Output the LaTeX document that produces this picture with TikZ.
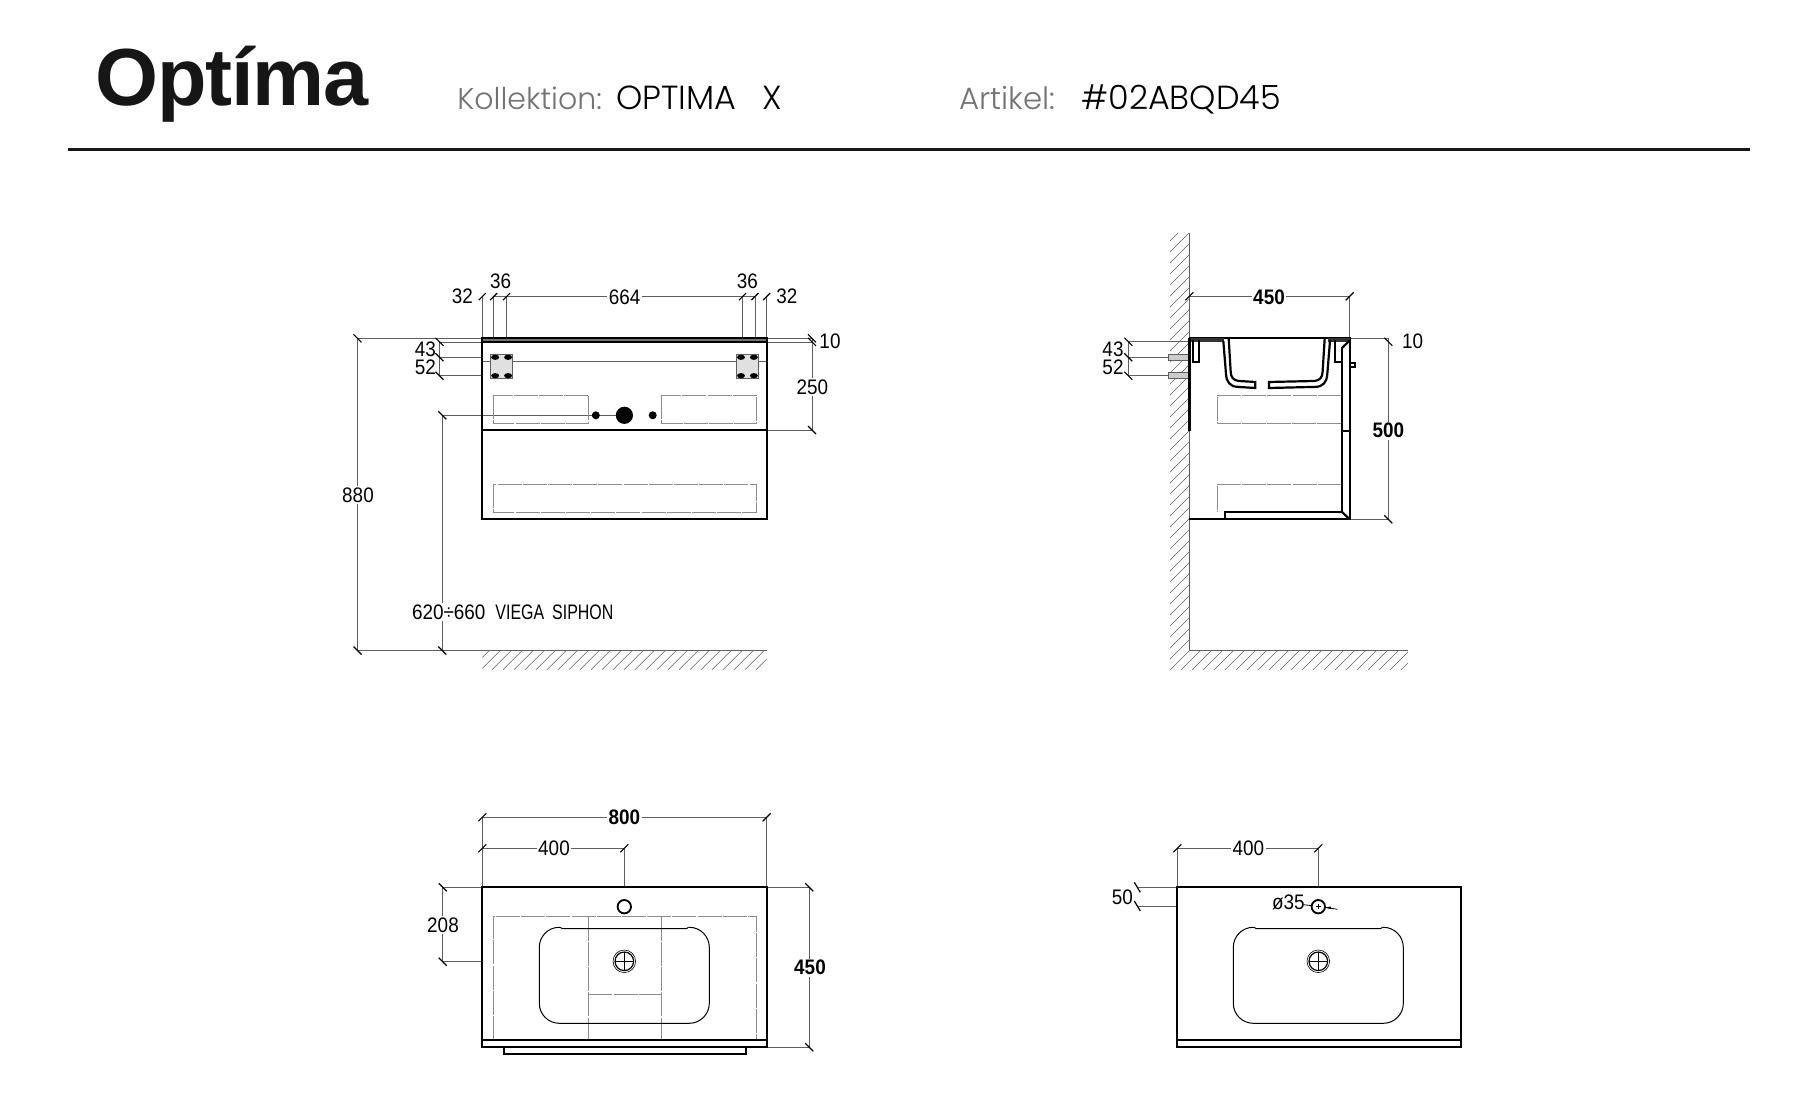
\documentclass[tikz,border=0pt]{standalone}
\usepackage{tikz}
\usepackage{fontspec}
\usepackage{xcolor}
\setmainfont{Liberation Sans}
\newfontfamily\logofont[LetterSpace=-1.5]{Liberation Sans}
\newfontfamily\dimfont[FakeStretch=0.9]{Liberation Sans}
\newfontfamily\dimnarrow[FakeStretch=0.76]{Liberation Sans}
\newfontfamily\headfont{Poppins}
\newfontfamily\headlight{Poppins Light}
\definecolor{optimablack}{RGB}{22,22,22}
\definecolor{dimgrey}{RGB}{95,95,95}
\definecolor{hiddengrey}{RGB}{140,140,140}

\begin{document}
\begin{tikzpicture}[x=0.5pt,y=-0.5pt,
    outline/.style={line width=1.1pt,black},
    dimline/.style={line width=0.35pt,dimgrey},
    hidden/.style={line width=0.35pt,hiddengrey,dash pattern=on 12pt off 0.6pt},
    tickline/.style={line width=0.6pt,black},
    hatchline/.style={line width=0.3pt,dimgrey},
    dimlabel/.style={font=\dimfont\fontsize{10.5}{12}\selectfont,fill=white,inner sep=0.8pt},
    dimbold/.style={dimlabel,font=\dimfont\bfseries\fontsize{10.5}{12}\selectfont},
    headgrey/.style={anchor=base west,inner sep=0pt,font=\headlight\fontsize{15}{18}\selectfont,black!55},
    headblack/.style={anchor=base west,inner sep=0pt,font=\headlight\fontsize{16.7}{18}\selectfont,black}]
    \useasboundingbox (0,0) rectangle (1817,1096);

    \node[anchor=base west,inner sep=0pt,optimablack,font=\logofont\bfseries\fontsize{40.5}{44}\selectfont] (logo) at (95,106) {Optíma};
    \node[headgrey] (kollektion) at (457,110) {Kollektion:};
    \node[headblack] (kollektionname) at (616,110) {OPTIMA\hspace{13pt}X};
    \node[headgrey,font=\headlight\fontsize{15.4}{18}\selectfont] (artikel) at (959,110) {Artikel:};
    \node[headblack] (artikelname) at (1081,110) {\#02ABQD45};
    \draw[line width=1.5pt,optimablack] (68,149.5) -- (1750,149.5);

    \begin{scope}
        \clip (482.3,650.6) rectangle (766.7,669.8);
        \foreach \hx in {470,481,...,780}
            \draw[hatchline] (\hx,669.8) -- (\hx+19.2,650.6);
    \end{scope}
    \draw[dimline] (357.5,650.6) -- (766.7,650.6);

    \draw[dimline] (357.5,338.4) -- (482.3,338.4);
    \draw[dimline] (357.5,338.4) -- (357.5,650.6);
    \draw[dimline] (442.3,415.3) -- (442.3,650.6);
    \draw[dimline] (442.3,415.3) -- (616,415.3);
    \draw[dimline] (439.5,341.9) -- (482.3,341.9);
    \draw[dimline] (439.5,357.2) -- (482.3,357.2);
    \draw[dimline] (439.5,375.7) -- (482.3,375.7);
    \draw[dimline] (439.5,341.9) -- (439.5,375.7);
    \draw[dimline] (482.3,296.6) -- (482.3,338.4);
    \draw[dimline] (493.7,296.6) -- (493.7,338.4);
    \draw[dimline] (506.5,296.6) -- (506.5,338.4);
    \draw[dimline] (742.5,296.6) -- (742.5,338.4);
    \draw[dimline] (754.9,296.6) -- (754.9,338.4);
    \draw[dimline] (766.7,296.6) -- (766.7,338.4);
    \draw[dimline] (493.7,296.6) -- (754.9,296.6);
    \draw[dimline] (766.7,338.4) -- (812,338.4);
    \draw[dimline] (766.7,341.9) -- (812,341.9);
    \draw[dimline] (766.7,430) -- (812,430);
    \draw[dimline] (812,338.4) -- (812,430);
    \foreach \tx/\ty in {482.3/296.6,493.7/296.6,506.5/296.6,742.5/296.6,754.9/296.6,766.7/296.6}
        \draw[tickline] (\tx,\ty) ++(-3.5,3.5) -- ++(7,-7);
    \foreach \tx/\ty in {357.5/338.4,357.5/650.6,442.3/415.3,442.3/650.6,439.5/341.9,439.5/357.2,439.5/375.7,812/338.4,812/341.9,812/430}
        \draw[tickline] (\tx,\ty) ++(-4,-4) -- ++(8,8);

    \draw[hidden] (493.2,395.3) rectangle (588.3,423.3);
    \draw[hidden] (661.3,395.3) rectangle (756.6,423.3);
    \draw[hidden] (493.2,484.3) rectangle (756.6,512.3);
    \draw[dimline] (482.3,361.3) -- (766.7,361.3);
    \foreach \bx in {490.5,736.3} {
        \fill[black!12] (\bx,354.3) rectangle (\bx+22.2,378.3);
        \draw[line width=0.4pt,dimgrey] (\bx,354.3) rectangle (\bx+22.2,378.3);
        \foreach \ox in {4.7,17.6}
            \foreach \oy in {357.3,375.7}
                \fill[black] (\bx+\ox,\oy) ellipse[x radius=4,y radius=2.6];
    }
    \fill[black] (595.8,415.3) circle[radius=4];
    \fill[black] (624.4,415.3) circle[radius=8.6];
    \fill[black] (652.7,415.3) circle[radius=4];
    \draw[outline,fill=black!55] (482.3,338.4) rectangle (766.7,342);
    \draw[outline] (482.3,338.4) rectangle (766.7,519.3);
    \draw[outline] (482.3,430) -- (766.7,430);

    \node[dimlabel] (fronttopa) at (462.4,296.6) {32};
    \node[dimlabel] (fronttopb) at (500.6,281.6) {36};
    \node[dimlabel] (fronttopc) at (624.6,297) {664};
    \node[dimlabel] (fronttopd) at (747.4,281.6) {36};
    \node[dimlabel] (fronttope) at (786.8,296.6) {32};
    \node[dimlabel] (frontslab) at (830,341) {10};
    \node[dimlabel] (frontupper) at (812.3,387) {250};
    \node[dimlabel] (frontheight) at (358,494.8) {880};
    \node[dimlabel,fill=none] (frontholea) at (425.3,349.5) {43};
    \node[dimlabel,fill=none] (frontholeb) at (425.3,367.3) {52};
    \node[dimlabel,anchor=west] (siphon) at (410,612) {620÷660\hspace{5pt}{\dimnarrow VIEGA}\hspace{4pt}{\dimnarrow SIPHON}};

    \begin{scope}
        \clip (1170,233) -- (1189.3,233) -- (1189.3,650.6) -- (1408,650.6) -- (1408,669.8) -- (1170,669.8) -- cycle;
        \foreach \hc in {1400,1411,...,2090}
            \draw[hatchline] (\hc-700,700) -- (\hc-200,200);
    \end{scope}
    \draw[dimline] (1189.3,233) -- (1189.3,650.6) -- (1408,650.6);

    \draw[dimline] (1189.3,296.3) -- (1349.7,296.3);
    \draw[dimline] (1349.7,296.3) -- (1349.7,338.4);
    \draw[dimline] (1128.3,341.7) -- (1189.3,341.7);
    \draw[dimline] (1128.3,357.3) -- (1168.3,357.3);
    \draw[dimline] (1128.3,375.7) -- (1168.3,375.7);
    \draw[dimline] (1128.3,341.7) -- (1128.3,375.7);
    \draw[dimline] (1349.7,338.4) -- (1388.3,338.4);
    \draw[dimline] (1349.7,519.3) -- (1388.3,519.3);
    \draw[dimline] (1388.3,338.4) -- (1388.3,519.3);
    \foreach \tx/\ty in {1189.3/296.3,1349.7/296.3}
        \draw[tickline] (\tx,\ty) ++(-4,4) -- ++(8,-8);
    \foreach \tx/\ty in {1128.3/341.7,1128.3/357.3,1128.3/375.7,1388.3/341.7,1388.3/519.3}
        \draw[tickline] (\tx,\ty) ++(-4,-4) -- ++(8,8);

    \draw[hidden] (1341.7,395.3) -- (1217.5,395.3) -- (1217.5,423.3) -- (1341.7,423.3);
    \draw[hidden] (1341.7,484.3) -- (1217.5,484.3) -- (1217.5,511.7);
    \foreach \sy in {354.7,372.3}
        \draw[line width=0.4pt,dimgrey,fill=black!20] (1168.3,\sy) rectangle (1189.3,\sy+6);
    \draw[outline] (1189.3,338.4) -- (1349.7,338.4) -- (1349.7,519.3) -- (1189.3,519.3);
    \fill[black!80] (1189.3,338.4) rectangle (1224,341.7);
    \fill[black!80] (1328,338.4) rectangle (1349.7,341.7);
    \draw[line width=1.2pt,black] (1189.3,338.4) -- (1189.3,430.7);
    \draw[outline] (1192.7,340) -- (1192.7,362) -- (1199.3,362) -- (1199.3,340);
    \draw[outline] (1335,340) -- (1335,362) -- (1341.7,362);
    \draw[outline] (1223.3,340.7) -- (1226,374) .. controls (1226.5,382) and (1230,386.7) .. (1238,386.9) -- (1255.3,388) -- (1255.3,382) -- (1239,381) .. controls (1233,380.5) and (1231,377) .. (1230.7,372) -- (1228.7,338.4);
    \draw[outline] (1330,340.7) -- (1327.3,374) .. controls (1326.8,382) and (1323.3,386.7) .. (1315.3,386.9) -- (1269,388) -- (1269,382) -- (1314.3,381) .. controls (1320.3,380.5) and (1322.3,377) .. (1322.6,372) -- (1324.7,338.4);
    \draw[outline] (1341.7,348.3) -- (1341.7,511.7) -- (1225,511.7) -- (1225,519.3);
    \draw[outline] (1341.7,348.3) -- (1349.7,340.4);
    \draw[outline] (1341.7,511.7) -- (1349.7,519.3);
    \draw[outline] (1341.7,430.7) -- (1349.7,430.7);
    \draw[outline] (1349.7,362.7) rectangle (1355,367);

    \node[dimbold] (sidewidth) at (1269,297) {450};
    \node[dimlabel,fill=none] (sideslab) at (1412.7,341) {10};
    \node[dimbold] (sideheight) at (1388.3,430.7) {500};
    \node[dimlabel,fill=none] (sideholea) at (1113,349.5) {43};
    \node[dimlabel,fill=none] (sideholeb) at (1113,367.3) {52};

    \draw[dimline] (482.3,817.3) -- (766.7,817.3);
    \draw[dimline] (482.3,848.3) -- (624.3,848.3);
    \draw[dimline] (482.3,817.3) -- (482.3,887.3);
    \draw[dimline] (766.7,817.3) -- (766.7,887.3);
    \draw[dimline] (624.3,848.3) -- (624.3,887.3);
    \draw[dimline] (442.7,887.3) -- (482.3,887.3);
    \draw[dimline] (442.7,961.7) -- (482.3,961.7);
    \draw[dimline] (442.7,887.3) -- (442.7,961.7);
    \draw[dimline] (766.7,887.3) -- (809.3,887.3);
    \draw[dimline] (766.7,1047.3) -- (809.3,1047.3);
    \draw[dimline] (809.3,887.3) -- (809.3,1047.3);
    \foreach \tx/\ty in {482.3/817.3,766.7/817.3,482.3/848.3,624.3/848.3}
        \draw[tickline] (\tx,\ty) ++(-4,4) -- ++(8,-8);
    \foreach \tx/\ty in {442.7/887.3,442.7/961.7,809.3/887.3,809.3/1047.3}
        \draw[tickline] (\tx,\ty) ++(-4,-4) -- ++(8,8);

    \draw[hidden] (493.3,1040) -- (493.3,916.7) -- (756.7,916.7) -- (756.7,1040);
    \draw[hidden] (588.3,916.7) -- (588.3,1040);
    \draw[hidden] (661.3,916.7) -- (661.3,1040);
    \draw[hidden] (588.3,994.3) -- (661.3,994.3);
    \draw[outline] (482.3,887.3) rectangle (766.7,1047.3);
    \draw[outline] (482.3,1040) -- (766.7,1040);
    \draw[outline] (504,1047.3) -- (504,1054) -- (746,1054) -- (746,1047.3);
    \draw[line width=0.9pt,black] (624.3,906.7) circle[radius=6.7];

    \foreach \cx in {624.3,1318.3} {
        \draw[line width=0.5pt,black,rounded corners=10pt] (\cx-64,927.3) -- (\cx-85,927.3) -- (\cx-85,1023.3) -- (\cx+85,1023.3) -- (\cx+85,927.3) -- (\cx+64,927.3);
        \draw[line width=0.5pt,black] (\cx-64,927.3) -- (\cx-62.5,928.5) -- (\cx+62.5,928.5) -- (\cx+64,927.3);
        \draw[line width=0.3pt,black] (\cx,961.3) circle[radius=11.3];
        \draw[line width=0.6pt,black] (\cx,961.3) circle[radius=9.3];
        \draw[line width=0.8pt,black] (\cx-9.3,961.3) -- (\cx+9.3,961.3);
        \draw[line width=0.8pt,black] (\cx,952) -- (\cx,970.6);
    }

    \node[dimbold] (topwidth) at (624.3,817.3) {800};
    \node[dimlabel] (tophalf) at (554,848.5) {400};
    \node[dimlabel] (topdepth) at (443,925) {208};
    \node[dimbold] (topheight) at (810,967.7) {450};

    \draw[dimline] (1177.3,848.3) -- (1318.3,848.3);
    \draw[dimline] (1177.3,848.3) -- (1177.3,887.3);
    \draw[dimline] (1318.3,848.3) -- (1318.3,887.3);
    \draw[dimline] (1137.3,887.3) -- (1177.3,887.3);
    \draw[dimline] (1137.3,906) -- (1177.3,906);
    \foreach \tx/\ty in {1177.3/848.3,1318.3/848.3}
        \draw[tickline] (\tx,\ty) ++(-4,4) -- ++(8,-8);
    \foreach \tx/\ty in {1137.3/887.3,1137.3/906}
        \draw[tickline] (\tx,\ty) ++(-3,-5) -- ++(6,10);

    \draw[outline] (1177.3,887.3) rectangle (1460.7,1047.3);
    \draw[outline] (1177.3,1040) -- (1460.7,1040);
    \draw[line width=0.9pt,black] (1318.3,906.7) circle[radius=6.7];
    \draw[line width=0.25pt,black] (1315.8,906.7) -- (1320.8,906.7);
    \draw[line width=0.25pt,black] (1318.3,904.2) -- (1318.3,909.2);
    \draw[line width=0.4pt,black] (1303.3,904.7) -- (1311.6,905.6);
    \draw[line width=0.4pt,black] (1337.3,909.3) -- (1325,907.3);
    \fill[black] (1325,907.3) -- (1331,906.6) -- (1330.7,909.2) -- cycle;

    \node[dimlabel] (plaintop) at (1248.3,848.3) {400};
    \node[dimlabel,fill=none] (plainhole) at (1122.3,897.7) {50};
    \node[dimlabel,fill=none] (plaindiameter) at (1288.3,902.7) {ø35};
\end{tikzpicture}
\end{document}
